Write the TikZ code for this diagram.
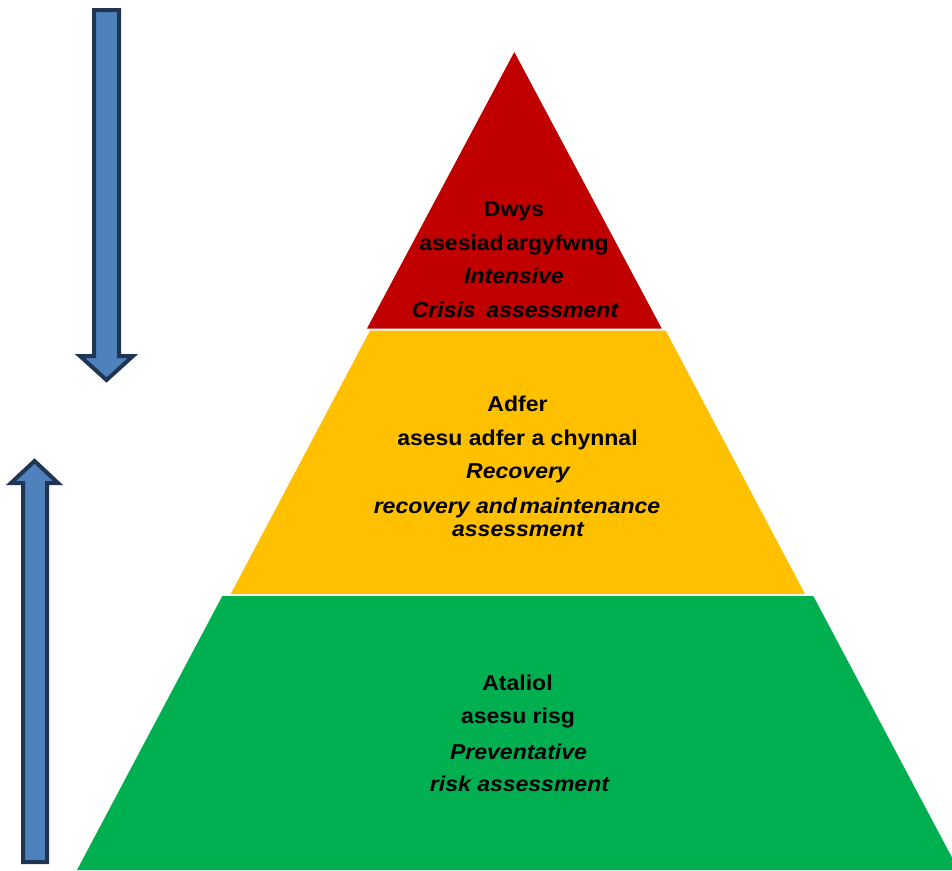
\documentclass[tikz,border=0pt]{standalone}
\usepackage{fontspec}
\setmainfont[FakeStretch=1.07]{Liberation Sans}
\definecolor{pred}{HTML}{C00000}
\definecolor{pyel}{HTML}{FFC000}
\definecolor{pgrn}{HTML}{00B050}
\definecolor{arrfill}{HTML}{4F81BD}
\definecolor{arrline}{HTML}{1F3552}
\begin{document}
\begin{tikzpicture}[x=1pt,y=-1pt,
  lbl/.style={anchor=base,inner sep=0pt,text=black,font=\fontsize{21.5}{26}\selectfont\bfseries},
  ilbl/.style={lbl,font=\fontsize{21.5}{26}\selectfont\bfseries\itshape},
  bigarrow/.style={fill=arrfill,draw=arrline,line width=4pt,line join=miter}]
\useasboundingbox (0,0) rectangle (952,870);
\fill[white] (0,0) rectangle (952,870);
% pyramid layers
\fill[pred] (514.3,52) -- (661.7,328.5) -- (367,328.5) -- cycle;
\fill[pyel] (370,330.7) -- (665.7,330.7) -- (805,594) -- (230.7,594) -- cycle;
\fill[pgrn] (222.3,596) -- (813.3,596) -- (958.6,870) -- (77,870) -- cycle;
% arrows
\draw[bigarrow] (94,10) -- (119,10) -- (119,356) -- (133,356) -- (106.5,380) -- (80,356) -- (94,356) -- cycle;
\draw[bigarrow] (23,862) -- (47,862) -- (47,483) -- (58,483) -- (34.5,461) -- (11,483) -- (23,483) -- cycle;
% red labels
\node[lbl]  (r1) at (514,216.7) {Dwys};
\node[lbl]  (r2) at (514,250) {asesiad\hspace{0.12em}argyfwng};
\node[ilbl] (r3) at (514,283.3) {Intensive};
\node[ilbl] (r4) at (515,317.3) {Crisis\hspace{0.5em}assessment};
% yellow labels
\node[lbl]  (y1) at (517.5,411.7) {Adfer};
\node[lbl]  (y2) at (517.5,445.7) {asesu adfer a chynnal};
\node[ilbl] (y3) at (518,478.3) {Recovery};
\node[ilbl] (y4) at (517,513.3) {recovery and\hspace{0.12em}maintenance};
\node[ilbl] (y5) at (518,536.7) {assessment};
% green labels
\node[lbl]  (g1) at (517.5,690.7) {Ataliol};
\node[lbl]  (g2) at (518,723.3) {asesu risg};
\node[ilbl] (g3) at (518.5,759) {Preventative};
\node[ilbl] (g4) at (519.5,791.7) {risk assessment};
\end{tikzpicture}
\end{document}
